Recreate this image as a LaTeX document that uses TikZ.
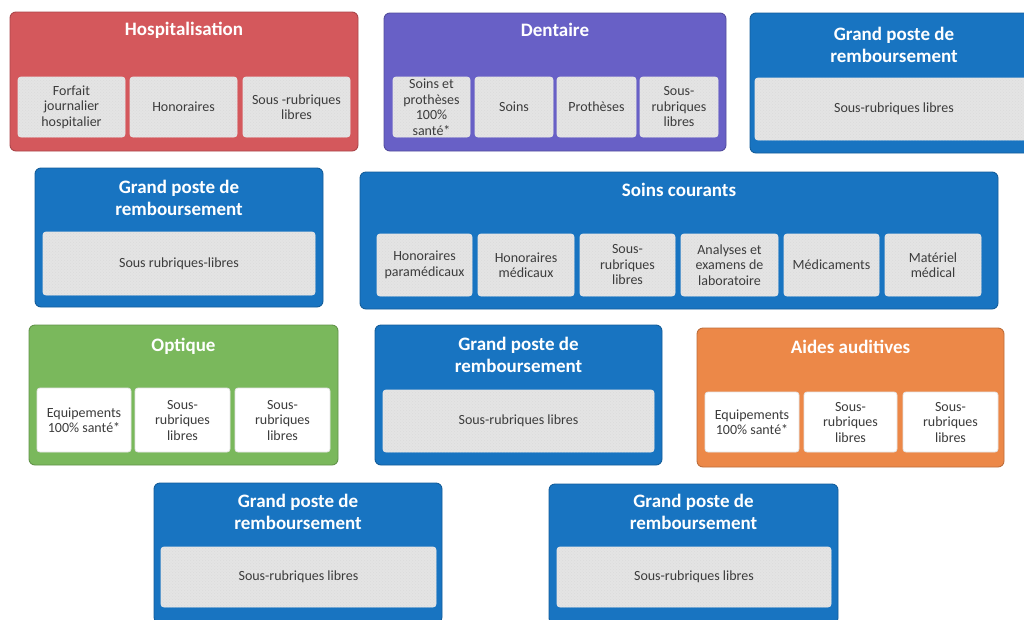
\documentclass[tikz,border=0pt]{standalone}
\usepackage{fontspec}
\setmainfont{Carlito}
\usetikzlibrary{patterns}
\definecolor{hospred}{RGB}{212,88,92}
\definecolor{dentpurple}{RGB}{104,96,198}
\definecolor{gpblue}{RGB}{24,116,193}
\definecolor{optgreen}{RGB}{122,184,92}
\definecolor{audorange}{RGB}{236,136,72}
\definecolor{innergray}{RGB}{228,228,228}
\definecolor{innertext}{RGB}{60,60,60}
\tikzset{
  outerbox/.style={rounded corners=6pt, inner sep=0pt, draw=#1!80!black, line width=0.9pt, fill=#1},
  titletext/.style={text=white, font=\fontsize{19}{22}\selectfont\bfseries, align=center, inner sep=0pt},
  subbox/.style={rounded corners=3pt, inner sep=1pt, draw=white!90!black, line width=0.8pt,
     preaction={fill=innergray}, pattern=crosshatch dots, pattern color=black!14,
     text=innertext, font=\fontsize{14}{15.5}\selectfont, align=center},
  whitebox/.style={rounded corners=3pt, inner sep=1pt, draw=white!90!black, line width=0.8pt,
     fill=white, text=innertext, font=\fontsize{14}{15.5}\selectfont, align=center},
}
\begin{document}
\begin{tikzpicture}[x=1pt,y=-1pt]
\useasboundingbox (0,0) rectangle (1024,619);
\clip (0,0) rectangle (1024,619);
\fill[white] (0,0) rectangle (1024,619);
% Hospitalisation
\node[outerbox=hospred, minimum width=348pt, minimum height=139pt] (hosp) at (184,81.5) {};
\node[titletext] (hospT) at (184,30) {Hospitalisation};
\node[subbox, minimum width=107pt, minimum height=60pt] (hosp1) at (71.5,107) {Forfait\\journalier\\hospitalier};
\node[subbox, minimum width=107pt, minimum height=60pt] (hosp2) at (183.5,107) {Honoraires};
\node[subbox, minimum width=107pt, minimum height=60pt] (hosp3) at (296.5,107) {Sous -rubriques\\libres};
% Dentaire
\node[outerbox=dentpurple, minimum width=342pt, minimum height=138pt] (dent) at (555,82) {};
\node[titletext] (dentT) at (555,30) {Dentaire};
\node[subbox, minimum width=77pt, minimum height=60pt] (dent1) at (431.5,107) {Soins et\\prothèses\\100\%\\santé*};
\node[subbox, minimum width=78pt, minimum height=60pt] (dent2) at (514,107) {Soins};
\node[subbox, minimum width=79pt, minimum height=60pt] (dent3) at (596.5,107) {Prothèses};
\node[subbox, minimum width=78pt, minimum height=60pt] (dent4) at (679,107) {Sous-\\rubriques\\libres};
% GP top right
\node[outerbox=gpblue, minimum width=288pt, minimum height=140pt] (gp1) at (894,83) {};
\node[titletext] (gp1T) at (894,45) {Grand poste de\\remboursement};
\node[subbox, minimum width=278pt, minimum height=62pt] (gp1s) at (894,109) {Sous-rubriques libres};
% GP row 2 left
\node[outerbox=gpblue, minimum width=288pt, minimum height=139pt] (gp2) at (179,237.5) {};
\node[titletext] (gp2T) at (179,198) {Grand poste de\\remboursement};
\node[subbox, minimum width=272pt, minimum height=63pt] (gp2s) at (179,263.5) {Sous rubriques-libres};
% Soins courants
\node[outerbox=gpblue, minimum width=638pt, minimum height=137pt] (soins) at (679,240.5) {};
\node[titletext] (soinsT) at (679,190) {Soins courants};
\node[subbox, minimum width=95pt, minimum height=62pt] (soins1) at (424.5,265) {Honoraires\\paramédicaux};
\node[subbox, minimum width=96pt, minimum height=62pt] (soins2) at (526,265) {Honoraires\\médicaux};
\node[subbox, minimum width=95pt, minimum height=62pt] (soins3) at (627.5,265) {Sous-\\rubriques\\libres};
\node[subbox, minimum width=97pt, minimum height=62pt] (soins4) at (729.5,265) {Analyses et\\examens de\\laboratoire};
\node[subbox, minimum width=95pt, minimum height=62pt] (soins5) at (831.5,265) {Médicaments};
\node[subbox, minimum width=96pt, minimum height=62pt] (soins6) at (933,265) {Matériel\\médical};
% Optique
\node[outerbox=optgreen, minimum width=309pt, minimum height=140pt] (opt) at (183.5,395) {};
\node[titletext] (optT) at (183.5,346) {Optique};
\node[whitebox, minimum width=94pt, minimum height=64pt] (opt1) at (84,420) {Equipements\\100\% santé*};
\node[whitebox, minimum width=95pt, minimum height=64pt] (opt2) at (182.5,420) {Sous-\\rubriques\\libres};
\node[whitebox, minimum width=95pt, minimum height=64pt] (opt3) at (282.5,420) {Sous-\\rubriques\\libres};
% GP row 3 middle
\node[outerbox=gpblue, minimum width=287pt, minimum height=140pt] (gp3) at (518.5,395) {};
\node[titletext] (gp3T) at (518.5,355) {Grand poste de\\remboursement};
\node[subbox, minimum width=271pt, minimum height=62pt] (gp3s) at (518.5,421) {Sous-rubriques libres};
% Aides auditives
\node[outerbox=audorange, minimum width=307pt, minimum height=139pt] (aud) at (850.5,397.5) {};
\node[titletext] (audT) at (850.5,347) {Aides auditives};
\node[whitebox, minimum width=94pt, minimum height=60pt] (aud1) at (752,422) {Equipements\\100\% santé*};
\node[whitebox, minimum width=93pt, minimum height=60pt] (aud2) at (850.5,422) {Sous-\\rubriques\\libres};
\node[whitebox, minimum width=95pt, minimum height=60pt] (aud3) at (950.5,422) {Sous-\\rubriques\\libres};
% GP bottom left
\node[outerbox=gpblue, minimum width=288pt, minimum height=140pt] (gp4) at (298,553) {};
\node[titletext] (gp4T) at (298,512) {Grand poste de\\remboursement};
\node[subbox, minimum width=275pt, minimum height=60pt] (gp4s) at (298.5,577) {Sous-rubriques libres};
% GP bottom right
\node[outerbox=gpblue, minimum width=289pt, minimum height=140pt] (gp5) at (693.5,554) {};
\node[titletext] (gp5T) at (693.5,512) {Grand poste de\\remboursement};
\node[subbox, minimum width=274pt, minimum height=60pt] (gp5s) at (694,577) {Sous-rubriques libres};
\end{tikzpicture}
\end{document}
